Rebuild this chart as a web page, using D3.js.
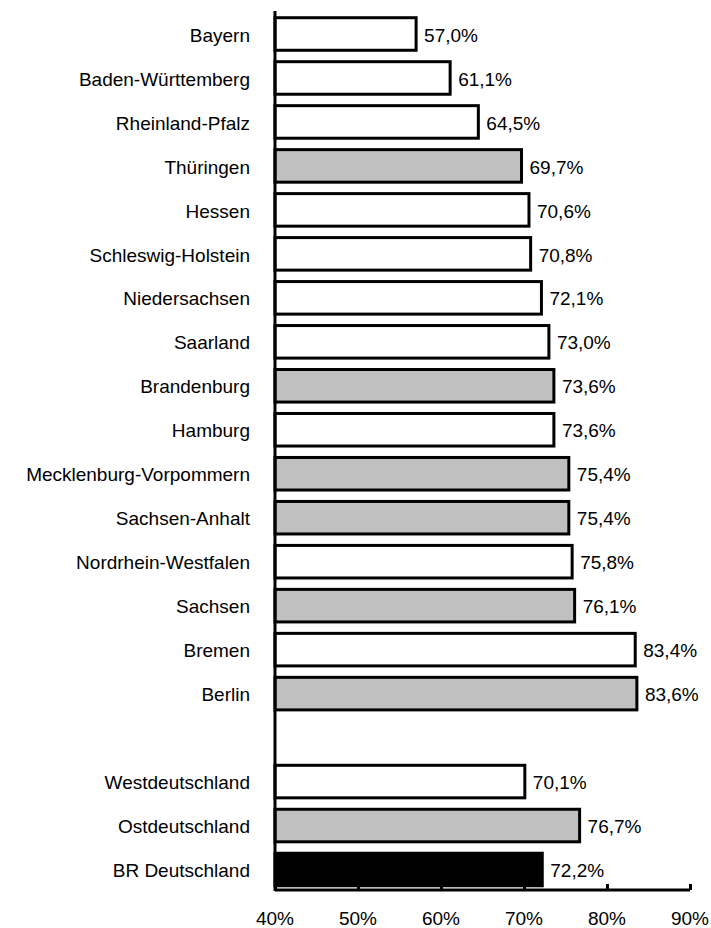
<!DOCTYPE html>
<meta charset="utf-8">
<style>
    body {
        margin: 0;
        padding: 0;
        background: #fff;
    }
    svg text {
        font-family: "Liberation Sans", Arial, sans-serif;
        fill: #000;
    }
</style>

<body>

<script src="https://d3js.org/d3.v7.min.js"></script>

<script>

var categories = ["Bayern", "Baden-Württemberg", "Rheinland-Pfalz", "Thüringen", "Hessen",
  "Schleswig-Holstein", "Niedersachsen", "Saarland", "Brandenburg", "Hamburg",
  "Mecklenburg-Vorpommern", "Sachsen-Anhalt", "Nordrhein-Westfalen", "Sachsen",
  "Bremen", "Berlin", "", "Westdeutschland", "Ostdeutschland", "BR Deutschland"];
var values = [57.0, 61.1, 64.5, 69.7, 70.6, 70.8, 72.1, 73.0, 73.6, 73.6,
  75.4, 75.4, 75.8, 76.1, 83.4, 83.6, null, 70.1, 76.7, 72.2];
// w = west, e = east, t = total
var groups = ["w", "w", "w", "e", "w", "w", "w", "w", "e", "w",
  "e", "e", "w", "e", "w", "e", null, "w", "e", "t"];
var ticks = [40, 50, 60, 70, 80, 90];

var fills = { w: "#ffffff", e: "#c0c0c0", t: "#000000" };

var width = 711,
  height = 928;

var data = categories.map((c, i) => ({ key: i, name: c, value: values[i], group: groups[i] }));

var x = d3.scaleLinear()
  .domain([40, 90])
  .range([275, 690]);

var y = d3.scaleBand()
  .domain(data.map(d => d.key))
  .range([12, 891.5])
  .paddingInner(0.26)
  .paddingOuter(0.13);

var svg = d3.select("body")
  .append("svg")
  .attr("width", width)
  .attr("height", height);

var bars = data.filter(d => d.value != null);

svg.append("g")
  .selectAll("rect")
  .data(bars)
  .enter()
  .append("rect")
  .attr("x", x(40))
  .attr("y", d => y(d.key))
  .attr("width", d => x(d.value) - x(40))
  .attr("height", y.bandwidth())
  .attr("fill", d => fills[d.group])
  .attr("stroke", "#000")
  .attr("stroke-width", 3);

// value labels
svg.append("g")
  .selectAll("text")
  .data(bars)
  .enter()
  .append("text")
  .attr("x", d => x(d.value) + 8)
  .attr("y", d => y(d.key) + y.bandwidth() / 2 + 1)
  .attr("dy", "0.35em")
  .style("font-size", "19px")
  .text(d => d.value.toFixed(1).replace(".", ",") + "%");

// category labels
svg.append("g")
  .selectAll("text")
  .data(data.filter(d => d.name))
  .enter()
  .append("text")
  .attr("x", 250)
  .attr("y", d => y(d.key) + y.bandwidth() / 2 + 1)
  .attr("dy", "0.35em")
  .attr("text-anchor", "end")
  .style("font-size", "19px")
  .text(d => d.name);

// vertical axis line
svg.append("line")
  .attr("x1", x(40))
  .attr("x2", x(40))
  .attr("y1", 11)
  .attr("y2", 891)
  .attr("stroke", "#000")
  .attr("stroke-width", 3);

// x axis
var xAxis = svg.append("g")
  .attr("transform", "translate(0,890)")
  .call(d3.axisTop(x).tickValues(ticks).tickSize(6).tickFormat(""));

xAxis.select(".domain")
  .attr("stroke-width", 3)
  .attr("d", "M" + x(40) + ",0H" + x(90));
xAxis.selectAll(".tick line").attr("stroke-width", 3);

svg.append("g")
  .selectAll("text")
  .data(ticks)
  .enter()
  .append("text")
  .attr("x", d => x(d))
  .attr("y", 925)
  .attr("text-anchor", "middle")
  .style("font-size", "19px")
  .text(d => d + "%");

</script>
